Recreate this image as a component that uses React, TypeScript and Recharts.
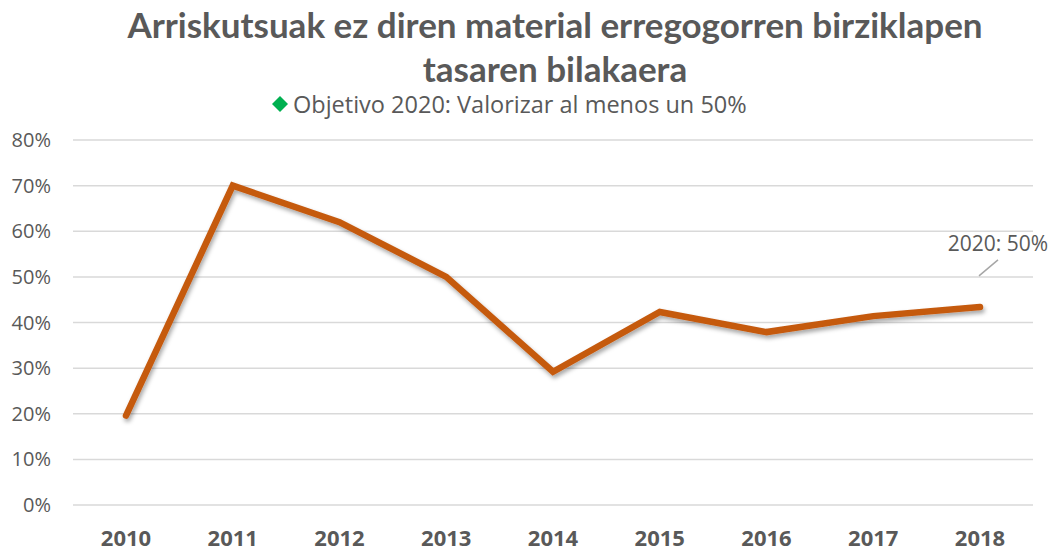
import { LineChart, Line, XAxis, YAxis, CartesianGrid, ReferenceDot } from "recharts";

const years = ["2010", "2011", "2012", "2013", "2014", "2015", "2016", "2017", "2018"];
const rates = [19.6, 70, 62, 50, 29.2, 42.3, 37.9, 41.4, 43.4];
const yTicks = [0, 10, 20, 30, 40, 50, 60, 70, 80];
const target = { year: "2018", value: 50, label: "2020: 50%" };
const legendLabel = "Objetivo 2020: Valorizar al menos un 50%";

const data = years.map((year, i) => ({ year, rate: rates[i] }));

const GREY = "#595959";
const FONT = "'Open Sans', sans-serif";

function TargetLabel(props: any) {
  const { viewBox } = props;
  const cx = viewBox.x;
  const cy = viewBox.y;
  return (
    <g>
      <line x1={cx - 1} y1={cy - 1} x2={cx + 18} y2={cy - 17} stroke="#A6A6A6" strokeWidth={1.5} />
      <text x={cx + 18} y={cy - 26} textAnchor="middle" fill={GREY} fontSize={21} fontFamily={FONT}>
        {target.label}
      </text>
    </g>
  );
}

export default function App() {
  return (
    <div style={{ position: "absolute", left: 0, top: 0, width: 1057, height: 552, background: "#fff" }}>
      <div
        style={{
          position: "absolute",
          left: 0,
          top: 2,
          width: 1110,
          textAlign: "center",
          fontFamily: "Lato, sans-serif",
          fontWeight: 700,
          fontSize: 35,
          lineHeight: "44px",
          color: GREY,
        }}
      >
        Arriskutsuak ez diren material erregogorren birziklapen
        <br />
        tasaren bilakaera
      </div>
      <div
        style={{
          position: "absolute",
          left: 271,
          top: 88,
          display: "flex",
          alignItems: "center",
          fontFamily: FONT,
          fontSize: 23.5,
          color: GREY,
          whiteSpace: "nowrap",
        }}
      >
        <svg width={18} height={18} style={{ marginRight: 4 }}>
          <polygon points="9,1 17,9 9,17 1,9" fill="#00B050" />
        </svg>
        {legendLabel}
      </div>
      <LineChart width={1057} height={552} data={data} margin={{ top: 140, right: 24, bottom: 0, left: 0 }}>
        <defs>
          <filter id="lineShadow" x="-10%" y="-10%" width="120%" height="130%">
            <feDropShadow dx={1.5} dy={3} stdDeviation={2} floodColor="#000" floodOpacity={0.35} />
          </filter>
        </defs>
        <CartesianGrid vertical={false} stroke="#D9D9D9" strokeWidth={1.5} />
        <XAxis
          dataKey="year"
          height={47}
          axisLine={false}
          tickLine={false}
          tickSize={0}
          tickMargin={25}
          padding={{ left: 53, right: 53 }}
          tick={{ fill: GREY, fontSize: 22, fontWeight: 700, fontFamily: FONT }}
          interval={0}
        />
        <YAxis
          width={73}
          domain={[0, 80]}
          ticks={yTicks}
          axisLine={false}
          tickLine={false}
          tickSize={0}
          tickMargin={22}
          tickFormatter={(v: number) => `${v}%`}
          tick={{ fill: GREY, fontSize: 20, fontFamily: FONT }}
        />
        <Line
          type="linear"
          dataKey="rate"
          stroke="#C55A11"
          strokeWidth={6.5}
          strokeLinecap="round"
          strokeLinejoin="miter"
          dot={false}
          activeDot={false}
          filter="url(#lineShadow)"
          isAnimationActive={false}
        />
        <ReferenceDot x={target.year} y={target.value} r={0} fill="none" stroke="none" label={<TargetLabel />} />
      </LineChart>
    </div>
  );
}
